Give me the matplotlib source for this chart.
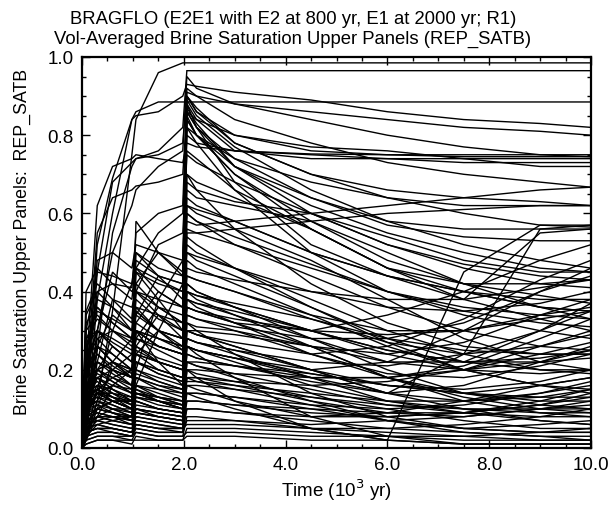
import matplotlib
matplotlib.use("Agg")
import matplotlib.pyplot as plt
from matplotlib.ticker import MultipleLocator

plt.rcParams['font.family'] = ['Liberation Sans', 'DejaVu Sans']

# Time grid (10^3 yr) shared by all realizations
T = [0.0, 0.08, 0.3, 0.6, 0.98, 1.06, 1.5, 1.98, 2.06, 2.25, 3.0, 4.5, 6.0, 7.5, 9.0, 10.0]

top_curves = [
    [0.00, 0.02, 0.12, 0.35, 0.75, 0.84, 0.96, 0.985, 0.985, 0.985, 0.985, 0.985, 0.985, 0.985, 0.985, 0.985],
    [0.00, 0.08, 0.45, 0.68, 0.73, 0.74, 0.76, 0.82, 0.965, 0.965, 0.965, 0.965, 0.965, 0.965, 0.965, 0.965],
    [0.00, 0.05, 0.38, 0.60, 0.84, 0.86, 0.885, 0.885, 0.885, 0.885, 0.885, 0.885, 0.885, 0.885, 0.885, 0.885],
    [0.00, 0.10, 0.52, 0.69, 0.84, 0.85, 0.86, 0.90, 0.93, 0.925, 0.91, 0.89, 0.86, 0.84, 0.83, 0.82],
    [0.00, 0.04, 0.25, 0.55, 0.72, 0.74, 0.75, 0.78, 0.91, 0.90, 0.88, 0.86, 0.84, 0.82, 0.81, 0.80],
    [0.00, 0.06, 0.30, 0.50, 0.62, 0.66, 0.72, 0.76, 0.95, 0.92, 0.88, 0.84, 0.80, 0.77, 0.75, 0.745],
]

upper_curves = [
    [0.00, 0.18, 0.40, 0.42, 0.41, 0.55, 0.60, 0.62, 0.90, 0.86, 0.80, 0.76, 0.75, 0.745, 0.745, 0.745],
    [0.00, 0.30, 0.45, 0.44, 0.42, 0.50, 0.46, 0.44, 0.88, 0.84, 0.76, 0.74, 0.74, 0.74, 0.74, 0.74],
    [0.00, 0.22, 0.35, 0.33, 0.30, 0.45, 0.42, 0.40, 0.92, 0.90, 0.84, 0.78, 0.73, 0.70, 0.68, 0.667],
    [0.00, 0.12, 0.28, 0.30, 0.28, 0.40, 0.38, 0.36, 0.86, 0.82, 0.74, 0.68, 0.64, 0.62, 0.62, 0.62],
    [0.00, 0.26, 0.36, 0.32, 0.28, 0.42, 0.36, 0.34, 0.90, 0.87, 0.78, 0.70, 0.64, 0.60, 0.57, 0.565],
    [0.00, 0.20, 0.30, 0.27, 0.24, 0.35, 0.30, 0.28, 0.84, 0.80, 0.72, 0.64, 0.58, 0.56, 0.56, 0.56],
    [0.00, 0.15, 0.48, 0.50, 0.46, 0.52, 0.50, 0.48, 0.80, 0.78, 0.76, 0.752, 0.75, 0.75, 0.75, 0.75],
    [0.00, 0.35, 0.42, 0.38, 0.33, 0.46, 0.40, 0.36, 0.89, 0.85, 0.77, 0.66, 0.58, 0.52, 0.48, 0.46],
    [0.00, 0.28, 0.33, 0.30, 0.27, 0.38, 0.33, 0.30, 0.87, 0.83, 0.72, 0.60, 0.52, 0.47, 0.44, 0.43],
    [0.00, 0.24, 0.38, 0.36, 0.32, 0.46, 0.43, 0.40, 0.85, 0.80, 0.70, 0.58, 0.48, 0.42, 0.39, 0.37],
    [0.00, 0.40, 0.46, 0.42, 0.38, 0.48, 0.44, 0.42, 0.88, 0.82, 0.68, 0.52, 0.44, 0.40, 0.36, 0.35],
    [0.00, 0.10, 0.20, 0.22, 0.20, 0.30, 0.28, 0.26, 0.82, 0.78, 0.66, 0.50, 0.40, 0.34, 0.30, 0.28],
    [0.00, 0.20, 0.62, 0.72, 0.74, 0.75, 0.74, 0.73, 0.78, 0.77, 0.76, 0.75, 0.74, 0.73, 0.73, 0.73],
    [0.00, 0.16, 0.55, 0.64, 0.66, 0.67, 0.68, 0.70, 0.86, 0.84, 0.80, 0.77, 0.76, 0.74, 0.72, 0.72],
]

mid_curves = [
    [0.00, 0.22, 0.30, 0.26, 0.22, 0.36, 0.30, 0.26, 0.66, 0.64, 0.62, 0.58, 0.50, 0.42, 0.36, 0.33],
    [0.00, 0.14, 0.22, 0.20, 0.18, 0.32, 0.28, 0.25, 0.64, 0.62, 0.58, 0.50, 0.44, 0.40, 0.38, 0.38],
    [0.00, 0.30, 0.34, 0.30, 0.26, 0.30, 0.28, 0.26, 0.60, 0.58, 0.52, 0.44, 0.36, 0.30, 0.26, 0.25],
    [0.00, 0.18, 0.26, 0.24, 0.20, 0.28, 0.25, 0.22, 0.62, 0.60, 0.56, 0.48, 0.38, 0.28, 0.22, 0.20],
    [0.00, 0.08, 0.14, 0.16, 0.15, 0.25, 0.22, 0.20, 0.56, 0.55, 0.52, 0.46, 0.40, 0.36, 0.34, 0.33],
    [0.00, 0.26, 0.30, 0.28, 0.25, 0.36, 0.34, 0.32, 0.68, 0.66, 0.63, 0.60, 0.54, 0.48, 0.45, 0.45],
    [0.00, 0.12, 0.20, 0.22, 0.20, 0.28, 0.26, 0.24, 0.58, 0.57, 0.58, 0.60, 0.62, 0.64, 0.66, 0.667],
    [0.00, 0.10, 0.18, 0.20, 0.18, 0.24, 0.22, 0.20, 0.55, 0.55, 0.56, 0.58, 0.60, 0.61, 0.62, 0.62],
    [0.00, 0.20, 0.26, 0.22, 0.18, 0.30, 0.26, 0.24, 0.52, 0.50, 0.46, 0.38, 0.30, 0.24, 0.20, 0.19],
    [0.00, 0.34, 0.40, 0.36, 0.30, 0.40, 0.36, 0.32, 0.70, 0.68, 0.64, 0.56, 0.46, 0.38, 0.33, 0.30],
]

lowmid_curves = [
    [0.00, 0.20, 0.24, 0.20, 0.16, 0.26, 0.22, 0.20, 0.48, 0.46, 0.42, 0.34, 0.26, 0.20, 0.16, 0.15],
    [0.00, 0.12, 0.18, 0.16, 0.14, 0.22, 0.20, 0.18, 0.44, 0.43, 0.40, 0.34, 0.30, 0.30, 0.34, 0.36],
    [0.00, 0.28, 0.30, 0.26, 0.22, 0.30, 0.26, 0.24, 0.42, 0.40, 0.36, 0.28, 0.20, 0.14, 0.11, 0.10],
    [0.00, 0.16, 0.22, 0.20, 0.18, 0.20, 0.18, 0.16, 0.40, 0.39, 0.37, 0.33, 0.28, 0.25, 0.24, 0.24],
    [0.00, 0.06, 0.10, 0.12, 0.12, 0.18, 0.16, 0.14, 0.38, 0.37, 0.34, 0.28, 0.22, 0.22, 0.30, 0.37],
    [0.00, 0.22, 0.28, 0.24, 0.20, 0.24, 0.22, 0.20, 0.36, 0.35, 0.32, 0.26, 0.18, 0.12, 0.09, 0.08],
    [0.00, 0.10, 0.14, 0.13, 0.12, 0.16, 0.15, 0.14, 0.34, 0.33, 0.31, 0.28, 0.28, 0.32, 0.40, 0.44],
    [0.00, 0.18, 0.20, 0.18, 0.15, 0.22, 0.19, 0.17, 0.46, 0.45, 0.43, 0.40, 0.38, 0.38, 0.41, 0.43],
    [0.00, 0.14, 0.16, 0.14, 0.12, 0.14, 0.13, 0.12, 0.32, 0.31, 0.30, 0.26, 0.22, 0.20, 0.22, 0.25],
    [0.00, 0.32, 0.36, 0.32, 0.28, 0.34, 0.30, 0.28, 0.50, 0.48, 0.44, 0.36, 0.27, 0.20, 0.16, 0.14],
    [0.00, 0.15, 0.20, 0.18, 0.16, 0.22, 0.20, 0.18, 0.30, 0.29, 0.27, 0.24, 0.26, 0.33, 0.43, 0.48],
    [0.00, 0.11, 0.16, 0.15, 0.13, 0.18, 0.16, 0.15, 0.26, 0.25, 0.23, 0.20, 0.22, 0.30, 0.40, 0.46],
    [0.00, 0.19, 0.24, 0.21, 0.18, 0.26, 0.23, 0.21, 0.36, 0.35, 0.32, 0.30, 0.34, 0.40, 0.48, 0.52],
]

low_curves = [
    [0.00, 0.10, 0.12, 0.10, 0.08, 0.14, 0.12, 0.10, 0.28, 0.27, 0.25, 0.20, 0.16, 0.14, 0.16, 0.18],
    [0.00, 0.08, 0.10, 0.09, 0.08, 0.12, 0.10, 0.09, 0.26, 0.25, 0.22, 0.16, 0.12, 0.10, 0.09, 0.09],
    [0.00, 0.14, 0.16, 0.13, 0.10, 0.16, 0.13, 0.11, 0.24, 0.23, 0.21, 0.17, 0.14, 0.16, 0.22, 0.26],
    [0.00, 0.05, 0.08, 0.08, 0.07, 0.10, 0.09, 0.08, 0.22, 0.21, 0.18, 0.12, 0.07, 0.04, 0.03, 0.02],
    [0.00, 0.12, 0.13, 0.11, 0.09, 0.12, 0.10, 0.09, 0.20, 0.20, 0.19, 0.18, 0.18, 0.20, 0.26, 0.30],
    [0.00, 0.06, 0.07, 0.06, 0.05, 0.09, 0.08, 0.07, 0.18, 0.18, 0.16, 0.12, 0.09, 0.08, 0.10, 0.12],
    [0.00, 0.09, 0.10, 0.09, 0.07, 0.10, 0.09, 0.08, 0.16, 0.16, 0.15, 0.13, 0.11, 0.10, 0.10, 0.10],
    [0.00, 0.04, 0.05, 0.05, 0.04, 0.06, 0.05, 0.05, 0.14, 0.14, 0.13, 0.10, 0.07, 0.05, 0.04, 0.04],
    [0.00, 0.11, 0.12, 0.10, 0.08, 0.10, 0.09, 0.08, 0.12, 0.12, 0.11, 0.10, 0.09, 0.09, 0.11, 0.14],
    [0.00, 0.03, 0.04, 0.04, 0.03, 0.05, 0.04, 0.04, 0.10, 0.10, 0.09, 0.07, 0.05, 0.04, 0.03, 0.03],
    [0.00, 0.07, 0.08, 0.07, 0.06, 0.08, 0.07, 0.06, 0.30, 0.29, 0.26, 0.20, 0.14, 0.10, 0.07, 0.06],
    [0.00, 0.16, 0.18, 0.15, 0.12, 0.18, 0.15, 0.13, 0.34, 0.33, 0.30, 0.24, 0.18, 0.14, 0.12, 0.12],
    [0.00, 0.02, 0.03, 0.03, 0.02, 0.04, 0.03, 0.03, 0.08, 0.08, 0.07, 0.05, 0.04, 0.03, 0.02, 0.02],
    [0.00, 0.13, 0.15, 0.12, 0.10, 0.12, 0.10, 0.09, 0.18, 0.18, 0.17, 0.16, 0.17, 0.20, 0.24, 0.27],
    [0.00, 0.05, 0.06, 0.05, 0.04, 0.07, 0.06, 0.05, 0.06, 0.06, 0.06, 0.05, 0.05, 0.06, 0.08, 0.10],
    [0.00, 0.10, 0.11, 0.09, 0.07, 0.09, 0.08, 0.07, 0.22, 0.22, 0.21, 0.19, 0.16, 0.14, 0.13, 0.13],
    [0.00, 0.04, 0.05, 0.04, 0.03, 0.04, 0.03, 0.03, 0.04, 0.04, 0.04, 0.03, 0.03, 0.02, 0.02, 0.02],
    [0.00, 0.01, 0.02, 0.02, 0.02, 0.02, 0.02, 0.02, 0.03, 0.03, 0.03, 0.02, 0.02, 0.01, 0.01, 0.01],
]

extra_low_curves = [
    [0.00, 0.12, 0.14, 0.12, 0.10, 0.16, 0.14, 0.12, 0.26, 0.24, 0.18, 0.08, 0.03, 0.01, 0.01, 0.01],
    [0.00, 0.08, 0.09, 0.08, 0.06, 0.10, 0.08, 0.07, 0.20, 0.18, 0.12, 0.05, 0.02, 0.01, 0.01, 0.01],
    [0.00, 0.15, 0.17, 0.14, 0.11, 0.15, 0.12, 0.10, 0.32, 0.30, 0.24, 0.14, 0.08, 0.05, 0.04, 0.04],
    [0.00, 0.06, 0.07, 0.06, 0.05, 0.07, 0.06, 0.05, 0.16, 0.15, 0.12, 0.08, 0.09, 0.12, 0.16, 0.18],
    [0.00, 0.09, 0.11, 0.10, 0.09, 0.13, 0.12, 0.11, 0.24, 0.23, 0.21, 0.18, 0.18, 0.21, 0.28, 0.33],
    [0.00, 0.18, 0.20, 0.17, 0.14, 0.20, 0.17, 0.15, 0.38, 0.36, 0.32, 0.24, 0.19, 0.18, 0.21, 0.24],
    [0.00, 0.03, 0.04, 0.04, 0.03, 0.06, 0.05, 0.04, 0.12, 0.12, 0.11, 0.09, 0.08, 0.09, 0.12, 0.15],
    [0.00, 0.11, 0.13, 0.12, 0.10, 0.14, 0.13, 0.12, 0.28, 0.27, 0.25, 0.22, 0.21, 0.24, 0.30, 0.35],
    [0.00, 0.05, 0.06, 0.05, 0.04, 0.08, 0.07, 0.06, 0.20, 0.19, 0.17, 0.13, 0.10, 0.07, 0.05, 0.05],
    [0.00, 0.14, 0.15, 0.13, 0.11, 0.13, 0.12, 0.10, 0.14, 0.14, 0.13, 0.11, 0.10, 0.11, 0.14, 0.17],
    [0.00, 0.02, 0.03, 0.03, 0.03, 0.05, 0.04, 0.04, 0.07, 0.07, 0.07, 0.06, 0.07, 0.08, 0.10, 0.11],
    [0.00, 0.20, 0.22, 0.19, 0.16, 0.22, 0.19, 0.17, 0.42, 0.40, 0.36, 0.30, 0.24, 0.20, 0.19, 0.20],
    [0.00, 0.07, 0.09, 0.08, 0.07, 0.11, 0.10, 0.09, 0.18, 0.17, 0.15, 0.11, 0.07, 0.05, 0.06, 0.07],
    [0.00, 0.04, 0.05, 0.05, 0.04, 0.06, 0.05, 0.05, 0.10, 0.10, 0.09, 0.08, 0.08, 0.09, 0.11, 0.13],
    [0.00, 0.16, 0.19, 0.17, 0.14, 0.19, 0.17, 0.15, 0.36, 0.35, 0.33, 0.30, 0.29, 0.30, 0.33, 0.35],
    [0.00, 0.10, 0.12, 0.11, 0.09, 0.13, 0.11, 0.10, 0.22, 0.21, 0.19, 0.15, 0.11, 0.09, 0.08, 0.08],
    [0.00, 0.01, 0.02, 0.02, 0.01, 0.03, 0.02, 0.02, 0.05, 0.05, 0.05, 0.04, 0.03, 0.03, 0.04, 0.05],
    [0.00, 0.13, 0.14, 0.12, 0.10, 0.14, 0.12, 0.11, 0.17, 0.17, 0.16, 0.14, 0.12, 0.12, 0.14, 0.16],
    [0.00, 0.24, 0.26, 0.22, 0.18, 0.24, 0.20, 0.18, 0.40, 0.39, 0.36, 0.30, 0.25, 0.22, 0.22, 0.23],
    [0.00, 0.06, 0.08, 0.07, 0.06, 0.09, 0.08, 0.07, 0.26, 0.25, 0.23, 0.19, 0.16, 0.15, 0.17, 0.20],
]

arc_curves = [
    [0.00, 0.05, 0.30, 0.45, 0.40, 0.42, 0.50, 0.45, 0.60, 0.58, 0.54, 0.47, 0.40, 0.35, 0.32, 0.31],
    [0.00, 0.04, 0.22, 0.38, 0.36, 0.40, 0.52, 0.55, 0.75, 0.73, 0.68, 0.60, 0.52, 0.46, 0.42, 0.41],
    [0.00, 0.03, 0.15, 0.30, 0.42, 0.46, 0.55, 0.60, 0.82, 0.80, 0.74, 0.64, 0.57, 0.54, 0.53, 0.53],
    [0.00, 0.06, 0.26, 0.34, 0.30, 0.34, 0.44, 0.42, 0.50, 0.49, 0.46, 0.40, 0.36, 0.35, 0.37, 0.40],
    [0.00, 0.02, 0.10, 0.22, 0.28, 0.32, 0.40, 0.36, 0.44, 0.43, 0.40, 0.33, 0.27, 0.24, 0.26, 0.29],
    [0.00, 0.03, 0.12, 0.20, 0.24, 0.26, 0.34, 0.30, 0.30, 0.30, 0.29, 0.26, 0.24, 0.27, 0.34, 0.38],
    [0.00, 0.08, 0.20, 0.26, 0.22, 0.28, 0.36, 0.32, 0.38, 0.37, 0.35, 0.30, 0.25, 0.22, 0.23, 0.25],
    [0.00, 0.02, 0.08, 0.16, 0.20, 0.24, 0.30, 0.28, 0.26, 0.25, 0.23, 0.18, 0.14, 0.12, 0.13, 0.15],
]

late_rise_curves = [
    [0.00, 0.15, 0.18, 0.15, 0.12, 0.15, 0.13, 0.11, 0.14, 0.13, 0.10, 0.05, 0.02, 0.45, 0.57, 0.57],
    [0.00, 0.12, 0.15, 0.13, 0.11, 0.14, 0.12, 0.10, 0.30, 0.29, 0.26, 0.20, 0.14, 0.24, 0.56, 0.57],
    [0.00, 0.20, 0.26, 0.22, 0.19, 0.30, 0.26, 0.24, 0.62, 0.61, 0.58, 0.50, 0.44, 0.38, 0.55, 0.56],
]

e2_jump_curves = [
    [0.00, 0.08, 0.15, 0.18, 0.20, 0.58, 0.50, 0.44, 0.90, 0.86, 0.78, 0.70, 0.66, 0.64, 0.63, 0.62],
    [0.00, 0.06, 0.10, 0.12, 0.12, 0.50, 0.44, 0.38, 0.84, 0.80, 0.70, 0.56, 0.46, 0.42, 0.42, 0.43],
    [0.00, 0.05, 0.08, 0.10, 0.10, 0.45, 0.38, 0.30, 0.70, 0.66, 0.56, 0.42, 0.32, 0.26, 0.24, 0.24],
    [0.00, 0.03, 0.06, 0.07, 0.08, 0.40, 0.34, 0.28, 0.54, 0.52, 0.46, 0.36, 0.28, 0.22, 0.20, 0.20],
    [0.00, 0.10, 0.14, 0.14, 0.13, 0.35, 0.30, 0.25, 0.40, 0.38, 0.34, 0.26, 0.18, 0.13, 0.10, 0.09],
    [0.00, 0.04, 0.07, 0.08, 0.08, 0.30, 0.22, 0.16, 0.28, 0.27, 0.24, 0.18, 0.12, 0.09, 0.07, 0.06],
    [0.00, 0.10, 0.14, 0.12, 0.10, 0.20, 0.38, 0.48, 0.86, 0.82, 0.72, 0.62, 0.55, 0.50, 0.46, 0.45],
    [0.00, 0.08, 0.10, 0.09, 0.08, 0.16, 0.30, 0.42, 0.76, 0.74, 0.66, 0.56, 0.46, 0.40, 0.36, 0.35],
]

title_lines = ["BRAGFLO (E2E1 with E2 at 800 yr, E1 at 2000 yr; R1)",
               "Vol-Averaged Brine Saturation Upper Panels (REP_SATB)"]
x_label = "Time (10$^3$ yr)"
y_label = "Brine Saturation Upper Panels:  REP_SATB"
x_ticks = [0.0, 2.0, 4.0, 6.0, 8.0, 10.0]
y_ticks = [0.0, 0.2, 0.4, 0.6, 0.8, 1.0]

W, H = 613, 506
fig = plt.figure(figsize=(W / 100, H / 100), dpi=100)
ax = fig.add_axes([82 / W, 1 - 449 / H, (591 - 82) / W, (449 - 58) / H])

for group in (top_curves, upper_curves, mid_curves, lowmid_curves,
              low_curves, extra_low_curves, arc_curves,
              late_rise_curves, e2_jump_curves):
    for row in group:
        ax.plot(T, row, color='black', lw=1.0, solid_joinstyle='miter')

ax.set_xlim(0, 10)
ax.set_ylim(0, 1)
ax.set_xticks(x_ticks)
ax.set_xticklabels([f"{v:.1f}" for v in x_ticks])
ax.set_yticks(y_ticks)
ax.set_yticklabels([f"{v:.1f}" for v in y_ticks])
ax.xaxis.set_minor_locator(MultipleLocator(0.5))
ax.yaxis.set_minor_locator(MultipleLocator(0.05))
ax.tick_params(which='both', direction='in', top=True, right=True,
               labelsize=13.5, width=1.0, color='black')
ax.tick_params(which='major', length=6, pad=6)
ax.tick_params(which='minor', length=3)
for s in ax.spines.values():
    s.set_linewidth(1.6)

fig.text(293 / W, 1 - 20 / H, title_lines[0], ha='center', va='center', fontsize=13.3)
fig.text(293 / W, 1 - 39 / H, title_lines[1], ha='center', va='center', fontsize=13.3)
fig.text(337 / W, 1 - 490 / H, x_label, ha='center', va='center', fontsize=13.5)
fig.text(22 / W, 1 - 242 / H, y_label, ha='center', va='center',
         rotation=90, fontsize=12.8)

fig.savefig("out.png", dpi=100)
